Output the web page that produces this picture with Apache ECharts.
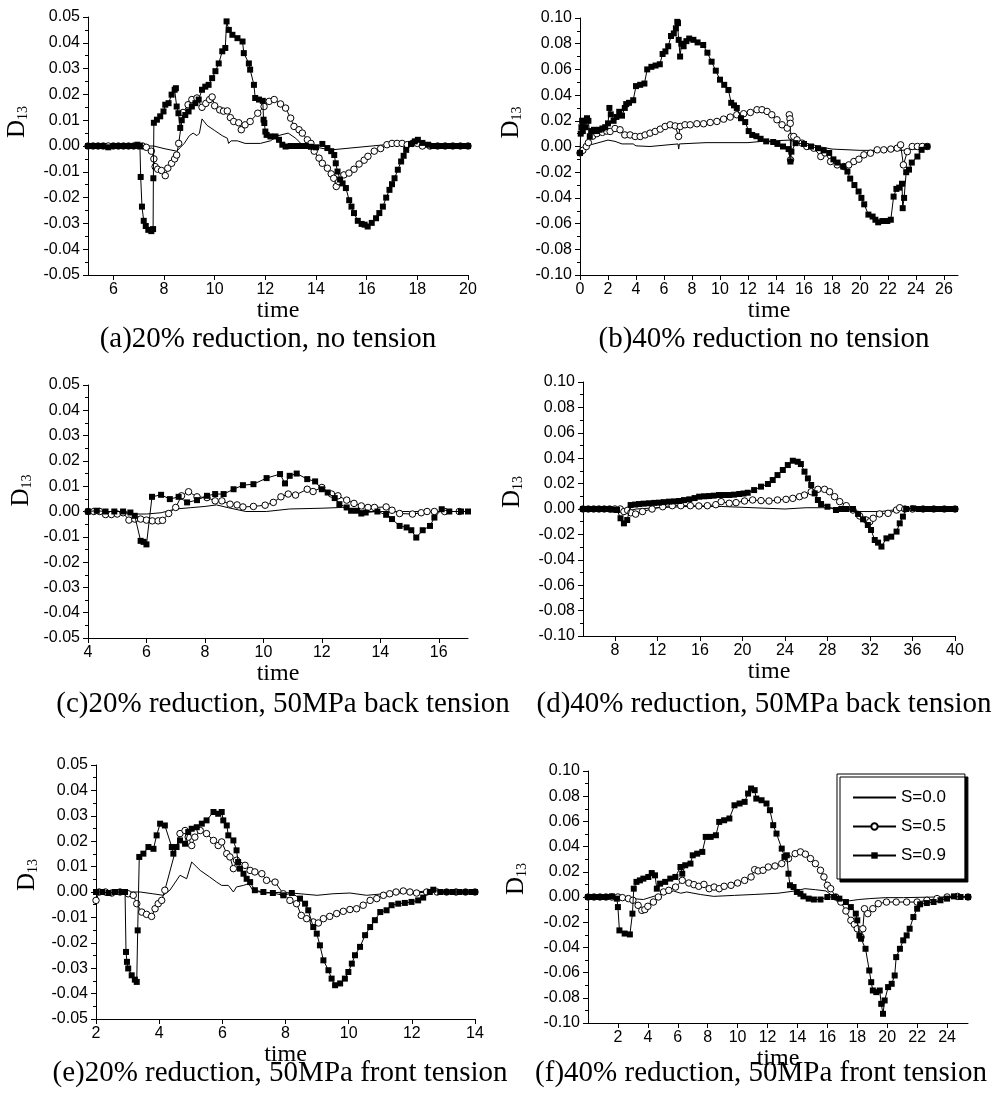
<!DOCTYPE html>
<html><head><meta charset="utf-8">
<script src="https://cdn.jsdelivr.net/npm/echarts@6/dist/echarts.min.js"></script>
<style>html,body{margin:0;padding:0;background:#fff}#chart{width:1008px;height:1095px}</style>
</head><body><div id="chart"></div>
<script>
// ---------- data ----------
const SERIES_NAMES = ['S=0.0', 'S=0.5', 'S=0.9'];
const CAPTIONS = [
  '(a)20% reduction, no tension',
  '(b)40% reduction no tension',
  '(c)20% reduction, 50MPa back tension',
  '(d)40% reduction, 50MPa back tension',
  '(e)20% reduction, 50MPa front tension',
  '(f)40% reduction, 50MPa front tension'
];
const X_LABEL = 'time';
const XTICKS_A = [6, 8, 10, 12, 14, 16, 18, 20];
const XTICKS_B = [0, 2, 4, 6, 8, 10, 12, 14, 16, 18, 20, 22, 24, 26];
const XTICKS_C = [4, 6, 8, 10, 12, 14, 16];
const XTICKS_D = [8, 12, 16, 20, 24, 28, 32, 36, 40];
const XTICKS_E = [2, 4, 6, 8, 10, 12, 14];
const XTICKS_F = [2, 4, 6, 8, 10, 12, 14, 16, 18, 20, 22, 24];

// (a) 20% reduction, no tension
const A_S00 = [[5,0],[6,0],[7,0],[7.6,0],[8.0,-0.001],[8.5,-0.002],[8.8,0.001],[9.0,0.004],[9.15,0.005],[9.3,0.004],[9.4,0.005],[9.5,0.0105],[9.7,0.008],[10.0,0.006],[10.3,0.004],[10.5,0.003],[10.55,0.001],[10.65,0.002],[10.9,0.002],[11.2,0.001],[11.8,0.001],[12.2,0.002],[12.5,0.004],[12.9,0.005],[13.2,0.003],[13.5,0.0],[14.0,-0.0005],[14.6,-0.0015],[17.8,0.0015],[18.3,0.0005],[19,0],[20,0]];
const A_S05 = [[5,0],[5.2,0],[5.4,0],[5.6,0],[5.8,0],[6,0],[6.2,0],[6.4,0],[6.6,0],[6.8,0],[7.0,0],[7.15,0],[7.3,-0.0005],[7.5,-0.002],[7.6,-0.005],[7.65,-0.008],[7.75,-0.009],[7.9,-0.0095],[8.05,-0.0115],[8.15,-0.0086],[8.3,-0.0067],[8.42,-0.005],[8.5,-0.0035],[8.58,0.001],[8.75,0.013],[8.95,0.016],[9.1,0.018],[9.3,0.0186],[9.5,0.015],[9.65,0.0165],[9.8,0.018],[9.9,0.019],[10.0,0.0156],[10.2,0.014],[10.35,0.0135],[10.5,0.0136],[10.62,0.011],[10.75,0.0095],[10.95,0.009],[11.05,0.0063],[11.2,0.0082],[11.4,0.0095],[11.7,0.0127],[11.95,0.0153],[12.15,0.0173],[12.35,0.018],[12.6,0.0163],[12.8,0.0147],[13.0,0.0108],[13.13,0.0076],[13.33,0.0063],[13.46,0.005],[13.66,0.0024],[13.8,0.001],[13.93,-0.002],[14.12,-0.0047],[14.25,-0.0067],[14.45,-0.0086],[14.6,-0.0108],[14.7,-0.0125],[14.8,-0.0157],[14.9,-0.0138],[15.1,-0.0112],[15.3,-0.0105],[15.5,-0.009],[15.7,-0.007],[15.9,-0.0055],[16.05,-0.004],[16.3,-0.002],[16.55,-0.001],[16.8,0.0005],[17.0,0.001],[17.2,0.001],[17.4,0.001],[17.6,0.0005],[17.8,0.001],[18.0,0.001],[18.2,0],[18.5,0],[18.8,0],[19.1,0],[19.4,0],[19.7,0],[20,0]];
const A_S09 = [[5,0],[5.2,0],[5.4,0],[5.6,0],[5.8,-0.0005],[6.0,0],[6.2,0],[6.4,0],[6.6,0],[6.8,0],[6.95,0.0005],[7.05,0],[7.08,-0.012],[7.13,-0.0235],[7.2,-0.029],[7.28,-0.031],[7.38,-0.0325],[7.5,-0.033],[7.57,-0.0322],[7.58,-0.0125],[7.6,0.009],[7.72,0.0102],[7.85,0.0115],[7.98,0.0134],[8.05,0.016],[8.18,0.0166],[8.3,0.0199],[8.42,0.0218],[8.47,0.0224],[8.5,0.0153],[8.57,0.0127],[8.64,0.007],[8.7,0.01],[8.84,0.012],[8.97,0.0134],[9.1,0.0153],[9.24,0.0166],[9.37,0.018],[9.5,0.0218],[9.63,0.023],[9.76,0.0237],[9.9,0.0263],[10.03,0.029],[10.16,0.032],[10.3,0.0367],[10.42,0.038],[10.47,0.0483],[10.56,0.045],[10.7,0.0431],[10.9,0.0418],[11.1,0.0405],[11.15,0.036],[11.35,0.032],[11.4,0.0296],[11.55,0.0237],[11.6,0.0186],[11.75,0.018],[11.9,0.0175],[11.93,0.0102],[11.96,0.0089],[12.0,0.0056],[12.05,0.0043],[12.2,0.0037],[12.4,0.0037],[12.54,0.0024],[12.67,0.0005],[12.8,-0.0002],[13.0,0],[13.2,0],[13.4,0],[13.6,0],[13.8,-0.0003],[14.0,-0.0005],[14.25,0.0008],[14.45,-0.0008],[14.6,-0.002],[14.72,-0.0035],[14.78,-0.0067],[14.85,-0.0099],[14.95,-0.013],[15.05,-0.0145],[15.18,-0.0163],[15.31,-0.021],[15.4,-0.0235],[15.5,-0.026],[15.65,-0.029],[15.8,-0.0302],[15.92,-0.0305],[16.04,-0.0312],[16.2,-0.0298],[16.37,-0.028],[16.5,-0.026],[16.64,-0.0235],[16.77,-0.02],[16.9,-0.017],[17.0,-0.0148],[17.1,-0.0125],[17.23,-0.0092],[17.36,-0.006],[17.46,-0.0038],[17.56,-0.0015],[17.75,0.0008],[17.9,0.0018],[18.02,0.0024],[18.2,0.0012],[18.42,0.0005],[18.6,0],[18.8,0],[19.0,0],[19.2,0],[19.4,0],[19.6,0],[19.8,0],[20,0]];

// (b) 40% reduction, no tension
const B_S00 = [[0,-0.004],[0.3,0.0],[1,0.002],[2,0.005],[2.5,0.004],[3,0.002],[3.8,0.002],[4,0.0005],[5,0],[6,0.001],[7,0.002],[7.05,-0.002],[7.1,0.002],[9,0.003],[12,0.003],[13,0.004],[15,0.005],[16,0.001],[17,0],[18,-0.002],[20,-0.003],[23,-0.003],[24,-0.002],[24.8,0]];
const B_S05 = [[0,-0.005],[0.2,-0.003],[0.45,0],[0.6,0.003],[0.9,0.008],[1.2,0.01],[1.6,0.011],[1.9,0.012],[2.15,0.0117],[2.5,0.014],[2.86,0.013],[3.2,0.009],[3.58,0.009],[3.94,0.0078],[4.3,0.0078],[4.65,0.009],[5.0,0.0104],[5.37,0.0117],[5.73,0.0135],[6.08,0.0156],[6.44,0.0169],[6.8,0.016],[7.04,0.0078],[7.16,0.0156],[7.5,0.0169],[7.87,0.0169],[8.35,0.0177],[8.83,0.0177],[9.3,0.0187],[9.78,0.0195],[10.26,0.0213],[10.73,0.0229],[11.2,0.0247],[11.69,0.0255],[12.17,0.0265],[12.64,0.0286],[13.0,0.0286],[13.36,0.0273],[13.7,0.0247],[14.07,0.0208],[14.43,0.0169],[14.8,0.0143],[14.95,0.0247],[15.0,0.0215],[15.02,0.018],[15.04,-0.0104],[15.1,0.0078],[15.27,0.0078],[15.5,0.0052],[15.86,0.0026],[16.2,0],[16.7,-0.0013],[17.2,-0.0078],[17.5,-0.005],[17.9,-0.0117],[18.37,-0.0143],[18.85,-0.0156],[19.2,-0.0143],[19.56,-0.0117],[19.92,-0.0099],[20.28,-0.0065],[20.75,-0.0052],[21.23,-0.0026],[21.7,-0.0026],[22.2,-0.002],[22.66,-0.0013],[22.9,0.0013],[23.1,-0.0143],[23.38,-0.004],[23.73,0],[24.1,0],[24.45,0],[24.8,0]];
const B_S09 = [[0,-0.005],[0.05,0.01],[0.1,0.015],[0.15,0.02],[0.2,0.012],[0.3,0.02],[0.4,0.015],[0.5,0.022],[0.6,0.02],[0.7,0.008],[0.8,0.012],[1.0,0.013],[1.2,0.012],[1.4,0.013],[1.6,0.014],[1.8,0.015],[2.0,0.018],[2.1,0.03],[2.2,0.025],[2.4,0.02],[2.6,0.023],[2.8,0.027],[3.0,0.024],[3.2,0.03],[3.3,0.033],[3.5,0.034],[3.8,0.036],[4.0,0.047],[4.3,0.048],[4.6,0.049],[4.8,0.06],[5.1,0.062],[5.4,0.063],[5.7,0.064],[5.9,0.072],[6.1,0.074],[6.3,0.078],[6.5,0.086],[6.7,0.088],[6.85,0.092],[6.95,0.097],[7.0,0.096],[7.05,0.083],[7.15,0.07],[7.25,0.08],[7.4,0.078],[7.6,0.082],[7.8,0.084],[8.1,0.083],[8.4,0.081],[8.8,0.079],[9.1,0.073],[9.4,0.066],[9.7,0.059],[10.0,0.052],[10.3,0.048],[10.6,0.044],[10.8,0.034],[11.0,0.032],[11.2,0.03],[11.5,0.022],[11.8,0.019],[12.05,0.012],[12.3,0.009],[12.6,0.008],[12.9,0.006],[13.3,0.004],[13.8,0.0035],[14.1,0.002],[14.5,0],[14.9,-0.002],[15.03,-0.0117],[15.1,-0.004],[15.4,0.0026],[16.0,0.002],[16.5,0],[17.0,-0.0013],[17.4,-0.003],[17.8,-0.005],[18.1,-0.01],[18.4,-0.0125],[18.8,-0.0156],[19.1,-0.0195],[19.3,-0.025],[19.6,-0.03],[19.9,-0.035],[20.1,-0.04],[20.3,-0.045],[20.6,-0.053],[20.9,-0.0545],[21.1,-0.057],[21.3,-0.059],[21.6,-0.058],[21.95,-0.058],[22.2,-0.057],[22.4,-0.039],[22.6,-0.033],[22.8,-0.032],[23.0,-0.029],[23.05,-0.048],[23.15,-0.04],[23.3,-0.02],[23.5,-0.018],[23.7,-0.0125],[24.1,-0.0078],[24.4,-0.0026],[24.8,0]];

// (c) 20% reduction, 50MPa back tension
const C_S00 = [[4,0],[5,0],[5.5,-0.001],[6,-0.001],[6.5,-0.0005],[7,0.001],[7.5,0.0015],[8,0.002],[8.4,0.0026],[8.8,0.0015],[9.4,0],[10.1,0],[10.9,0.001],[12,0.0013],[12.7,0.0016],[13.5,0],[14,0],[15,0],[16,0],[17,0]];
const C_S05 = [[4,0],[4.2,0],[4.4,0],[4.6,-0.0012],[4.8,-0.0012],[5.0,-0.001],[5.2,-0.0005],[5.4,-0.0034],[5.6,-0.003],[5.8,-0.003],[6.0,-0.0034],[6.2,-0.0037],[6.4,-0.0037],[6.55,-0.0035],[6.76,-0.0008],[7.0,0.0016],[7.2,0.0062],[7.44,0.0078],[7.73,0.0058],[8.07,0.0055],[8.35,0.0042],[8.58,0.0042],[8.86,0.0029],[9.1,0.0026],[9.3,0.0018],[9.66,0.002],[10.06,0.0025],[10.34,0.0036],[10.6,0.0058],[10.85,0.0069],[11.1,0.0065],[11.5,0.0088],[11.7,0.0079],[12.0,0.0095],[12.33,0.0069],[12.55,0.0062],[12.85,0.0045],[13.1,0.0032],[13.35,0.0022],[13.58,0.0016],[13.8,0.0016],[14.2,0.0018],[14.4,0.0005],[14.66,-0.0008],[15.1,-0.001],[15.4,-0.0005],[15.6,0],[15.85,0],[16.2,0],[16.7,0]];
const C_S09 = [[4,0],[4.3,0.0003],[4.6,0],[4.9,0],[5.2,0],[5.45,-0.0004],[5.6,-0.0017],[5.8,-0.0116],[5.9,-0.012],[6.0,-0.013],[6.19,0.0058],[6.5,0.0066],[6.8,0.0049],[7.1,0.0058],[7.39,0.0036],[7.73,0.0045],[8.07,0.0062],[8.35,0.0069],[8.64,0.0069],[8.98,0.0088],[9.3,0.0104],[9.66,0.0108],[10.11,0.0132],[10.57,0.0148],[10.74,0.0111],[10.9,0.0141],[11.14,0.015],[11.5,0.0128],[11.77,0.0119],[12.0,0.0088],[12.2,0.0075],[12.44,0.0053],[12.6,0.0029],[12.85,0.0016],[13.0,0.0003],[13.2,0.0003],[13.35,-0.0008],[13.5,-0.0004],[13.9,0],[14.2,-0.0013],[14.4,-0.003],[14.66,-0.0057],[14.9,-0.0063],[15.06,-0.0074],[15.23,-0.0103],[15.45,-0.0074],[15.7,-0.0057],[15.85,-0.0024],[16.1,0.0009],[16.36,0],[16.76,0],[17.0,0]];

// (d) 40% reduction, 50MPa back tension
const D_S00 = [[5,0],[8,0],[8.5,-0.001],[9,-0.002],[10,0],[12,0.001],[15,0.002],[18,0.002],[21,0.001],[24,0],[26,0.001],[28,0.001],[30,0],[31,-0.002],[33,-0.002],[35,0],[40,0]];
const D_S05 = [[5,0],[5.5,0],[6,0],[6.5,0],[7,0],[7.5,0],[8,0],[8.5,0],[8.85,-0.002],[9.2,-0.001],[9.5,-0.003],[9.95,-0.004],[10.6,-0.002],[11.5,0],[12.5,0.0018],[13.4,0.0026],[14.2,0.0026],[15.1,0.0026],[15.9,0.0024],[16.7,0.0026],[17.5,0.0034],[18.0,0.0058],[18.76,0.0045],[19.4,0.005],[20.2,0.0063],[20.96,0.0071],[21.75,0.0066],[22.5,0.0063],[23.3,0.0071],[24.1,0.0076],[24.74,0.0084],[25.37,0.0097],[25.84,0.011],[26.47,0.0136],[27.1,0.0155],[27.73,0.0155],[28.2,0.0136],[28.67,0.0097],[29.15,0.0058],[29.77,0.0026],[30.4,-0.0008],[31.03,-0.0055],[31.66,-0.0087],[31.98,-0.01],[32.3,-0.0073],[32.9,-0.0039],[33.7,-0.0034],[34.5,-0.0008],[34.8,0.001],[35.28,0],[36,0],[37,0],[38,0],[39,0],[40,0]];
const D_S09 = [[5,0],[5.4,0],[5.8,0],[6.2,0],[6.6,0],[7.0,0],[7.4,0],[7.8,-0.0005],[8.2,-0.0008],[8.53,-0.0073],[8.85,-0.0113],[9.16,-0.0087],[9.48,0.0031],[9.9,0.0035],[10.27,0.0039],[10.7,0.0042],[11.2,0.0045],[11.7,0.0048],[12.15,0.005],[12.6,0.0054],[13.1,0.0058],[13.6,0.006],[14.04,0.0063],[14.5,0.007],[15.0,0.0076],[15.5,0.0086],[15.93,0.0097],[16.4,0.01],[16.87,0.0102],[17.3,0.0105],[17.8,0.011],[18.3,0.011],[18.76,0.011],[19.2,0.0113],[19.7,0.0118],[20.1,0.0122],[20.5,0.0128],[21.1,0.0149],[21.75,0.0176],[22.4,0.0197],[22.85,0.0228],[23.3,0.0267],[23.8,0.0307],[24.27,0.0346],[24.74,0.038],[25.2,0.0372],[25.5,0.0354],[25.84,0.0294],[26.16,0.0241],[26.47,0.0189],[26.8,0.0123],[27.1,0.0071],[27.4,0.0039],[28.0,0.0018],[28.8,-0.0008],[29.3,0],[29.77,0],[30.4,0],[30.88,-0.0039],[31.35,-0.0081],[31.8,-0.0126],[32.1,-0.0165],[32.45,-0.0244],[32.76,-0.0265],[33.08,-0.0296],[33.55,-0.0231],[34.0,-0.0218],[34.5,-0.0178],[34.8,-0.0113],[35.1,-0.006],[35.4,0],[36.07,0.0005],[36.6,0],[37.1,0],[37.6,0],[38.1,0],[38.6,0],[39.1,0],[39.6,0],[40,0]];

// (e) 20% reduction, 50MPa front tension
const E_S00 = [[2,0],[3.3,0],[3.4,0],[3.8,-0.0007],[4.13,-0.0013],[4.34,0.0007],[4.66,0.0066],[4.87,0.0052],[4.92,0.0046],[5.03,0.0118],[5.3,0.0085],[5.6,0.0059],[5.82,0.0039],[5.98,0.0026],[6.19,0.0026],[6.25,0.002],[6.35,0],[6.45,0.002],[6.67,0.0026],[6.83,0.0033],[6.98,0.0004],[7.4,-0.0004],[7.9,-0.0001],[8.46,-0.0007],[9.0,-0.0013],[9.5,-0.0007],[10.04,-0.0004],[10.57,-0.0013],[11.1,-0.0007],[11.6,-0.0004],[12.15,0],[12.68,0.0007],[14,0]];
const E_S05 = [[2.0,-0.0033],[2.1,0],[2.3,0],[2.5,-0.0004],[2.76,0],[3.02,-0.0007],[3.18,-0.0013],[3.29,-0.0046],[3.45,-0.0079],[3.6,-0.0088],[3.76,-0.0096],[3.87,-0.0066],[3.97,-0.0046],[4.08,-0.0033],[4.18,0.0007],[4.66,0.023],[4.82,0.0242],[4.92,0.0216],[5.03,0.0183],[5.13,0.0216],[5.3,0.0242],[5.5,0.023],[5.72,0.0203],[5.87,0.0183],[5.98,0.0197],[6.14,0.0151],[6.24,0.0138],[6.35,0.0092],[6.45,0.0125],[6.56,0.0105],[6.72,0.0105],[6.88,0.0085],[7.03,0.0079],[7.25,0.0072],[7.4,0.0046],[7.67,0.0039],[7.93,-0.0007],[8.14,-0.0033],[8.35,-0.0046],[8.5,-0.0092],[8.67,-0.0105],[8.88,-0.0118],[9.04,-0.0122],[9.2,-0.0105],[9.4,-0.0096],[9.62,-0.0085],[9.83,-0.0076],[10.04,-0.0069],[10.25,-0.0066],[10.46,-0.0052],[10.68,-0.0033],[10.89,-0.0026],[11.1,-0.0013],[11.3,-0.0007],[11.5,0],[11.73,0.0004],[11.94,0],[12.15,-0.0004],[12.47,0],[12.8,0],[13.1,0],[13.4,0],[13.7,0],[14,0]];
const E_S09 = [[2.0,0],[2.2,0],[2.4,-0.0004],[2.6,0],[2.8,0],[2.92,0],[2.95,-0.0236],[2.98,-0.0275],[3.02,-0.0301],[3.13,-0.0328],[3.23,-0.0345],[3.29,-0.0354],[3.32,-0.0151],[3.37,0.0138],[3.5,0.0151],[3.66,0.0177],[3.82,0.017],[3.92,0.0223],[4.03,0.0269],[4.18,0.0262],[4.4,0.0177],[4.45,0.0151],[4.55,0.0177],[4.66,0.0203],[4.82,0.019],[4.92,0.0236],[5.03,0.0249],[5.19,0.0255],[5.35,0.0269],[5.5,0.0282],[5.72,0.0315],[5.87,0.0308],[5.98,0.0315],[6.03,0.0282],[6.14,0.0262],[6.19,0.0223],[6.35,0.0203],[6.45,0.0164],[6.5,0.0118],[6.56,0.0092],[6.67,0.0072],[6.77,0.0052],[6.88,0.0039],[7.03,0.0007],[7.3,0],[7.6,-0.0004],[7.93,-0.0013],[8.2,-0.0004],[8.46,-0.0026],[8.62,-0.0046],[8.72,-0.0072],[8.88,-0.0138],[8.99,-0.0164],[9.09,-0.021],[9.2,-0.0269],[9.36,-0.0308],[9.46,-0.0341],[9.57,-0.0367],[9.73,-0.036],[9.88,-0.0341],[9.99,-0.0315],[10.1,-0.0282],[10.2,-0.0249],[10.36,-0.0216],[10.52,-0.017],[10.68,-0.0138],[10.83,-0.0111],[11.0,-0.0079],[11.2,-0.0072],[11.36,-0.0052],[11.57,-0.0046],[11.78,-0.0043],[11.99,-0.0039],[12.2,-0.0033],[12.36,-0.0022],[12.57,0],[12.68,0.0009],[12.9,0],[13.1,0],[13.3,0],[13.5,0],[13.7,0],[13.9,0],[14,0]];

// (f) 40% reduction, 50MPa front tension
const F_S00 = [[0,0],[2.5,0],[3.0,-0.0013],[3.7,-0.002],[4.6,0.0013],[5.3,0.003],[5.7,0.0048],[6.2,0.003],[6.6,0.004],[7.5,0.002],[8.4,0.0005],[9.8,0.0013],[11.1,0.002],[12.7,0.003],[13.85,0.0048],[14.5,0.0066],[15.2,0.0058],[15.9,0.0048],[16.3,0.0013],[16.8,-0.0026],[17.5,-0.003],[18.1,-0.002],[18.8,-0.0013],[19.9,-0.0005],[21.1,-0.0005],[23.3,0],[25.4,0]];
const F_S05 = [[0,0],[0.4,0],[0.8,0],[1.2,0],[1.6,0],[2.0,0],[2.3,-0.0005],[2.7,-0.0013],[3.0,-0.0026],[3.35,-0.0066],[3.6,-0.0106],[3.8,-0.01],[4.0,-0.0074],[4.37,-0.004],[4.7,0],[5.05,0.004],[5.4,0.0053],[5.85,0.0079],[6.3,0.0132],[6.74,0.0111],[7.08,0.0098],[7.4,0.0085],[7.75,0.01],[8.1,0.0066],[8.43,0.0079],[8.77,0.0066],[9.1,0.0085],[9.56,0.0093],[10.0,0.0111],[10.47,0.0132],[10.9,0.0159],[11.14,0.0217],[11.37,0.0207],[11.7,0.0212],[12.05,0.0238],[12.5,0.0246],[12.95,0.0265],[13.4,0.0305],[13.85,0.0344],[14.2,0.0358],[14.53,0.034],[14.87,0.0305],[15.2,0.0265],[15.54,0.0212],[15.77,0.0159],[16.0,0.0093],[16.22,0.0066],[16.56,0],[16.9,-0.004],[17.24,-0.0111],[17.57,-0.0185],[17.8,-0.0217],[18.0,-0.0252],[18.25,-0.0318],[18.37,-0.0252],[18.48,-0.0093],[18.7,-0.0132],[19.04,-0.0093],[19.4,-0.0053],[19.95,-0.004],[20.6,-0.004],[21.3,-0.004],[22.0,-0.004],[22.65,-0.0026],[23.33,-0.0013],[24.0,0],[24.7,0.0005],[25.4,0]];
const F_S09 = [[0,0],[0.4,0],[0.8,0],[1.2,0],[1.6,0.0005],[1.93,-0.0013],[2.0,-0.008],[2.1,-0.0265],[2.45,-0.029],[2.8,-0.0297],[2.97,-0.0132],[3.06,0.0066],[3.24,0.012],[3.47,0.0132],[3.7,0.0146],[4.03,0.0159],[4.26,0.019],[4.48,0.0172],[4.6,0.0066],[4.82,0.0106],[5.16,0.012],[5.5,0.0146],[5.84,0.0159],[6.18,0.0238],[6.3,0.0185],[6.5,0.0252],[6.85,0.0265],[7.0,0.0331],[7.3,0.0344],[7.64,0.0358],[7.87,0.0477],[8.2,0.0477],[8.55,0.049],[8.77,0.0596],[9.1,0.0609],[9.45,0.0623],[9.79,0.0728],[10.13,0.0742],[10.47,0.0755],[10.7,0.0821],[10.9,0.0861],[11.14,0.0848],[11.25,0.0781],[11.6,0.0768],[11.93,0.0742],[12.16,0.0689],[12.38,0.057],[12.6,0.0503],[12.95,0.0384],[13.13,0.0318],[13.29,0.0331],[13.4,0.0185],[13.5,0.0093],[13.74,0.0079],[13.96,0.004],[14.2,0.0026],[14.4,0.0005],[14.75,-0.0013],[15.1,-0.002],[15.54,-0.002],[16.0,0],[16.45,0],[16.8,-0.0013],[17.24,-0.004],[17.57,-0.008],[17.9,-0.0132],[18.0,-0.0185],[18.14,-0.0305],[18.25,-0.0331],[18.55,-0.0411],[18.8,-0.0583],[18.93,-0.0676],[19.04,-0.0742],[19.27,-0.0755],[19.5,-0.0742],[19.6,-0.0848],[19.72,-0.0927],[19.83,-0.0821],[20.06,-0.0715],[20.3,-0.0689],[20.5,-0.0623],[20.6,-0.0477],[20.85,-0.0411],[21.07,-0.0344],[21.3,-0.0305],[21.5,-0.0252],[21.75,-0.0159],[22.0,-0.0093],[22.2,-0.0058],[22.65,-0.0048],[23.1,-0.004],[23.56,-0.0026],[24.0,-0.0013],[24.46,0.0005],[24.9,0],[25.4,0]];

// ---------- layout ----------
const PANELS = [
  {grid:{left:88, top:17, width:380, height:258}, xMin:5, xMax:20, xTicks:XTICKS_A, yLim:0.05, yStep:0.01, data:[A_S00,A_S05,A_S09], cap:[268,339], yGap:58, yShift:48, xGap:15},
  {grid:{left:580, top:18, width:378, height:257}, xMin:0, xMax:27, xTicks:XTICKS_B, yLim:0.10, yStep:0.02, data:[B_S00,B_S05,B_S09], cap:[764,339], yGap:56, yShift:48, xGap:18},
  {grid:{left:88, top:385, width:380, height:253}, xMin:4, xMax:17, xTicks:XTICKS_C, yLim:0.05, yStep:0.01, data:[C_S00,C_S05,C_S09], cap:[283,704], yGap:54, yShift:42, xGap:15},
  {grid:{left:583, top:382, width:372, height:254}, xMin:5, xMax:40, xTicks:XTICKS_D, yLim:0.10, yStep:0.02, data:[D_S00,D_S05,D_S09], cap:[764,704], yGap:58, yShift:34, xGap:15},
  {grid:{left:96, top:765, width:379, height:254}, xMin:2, xMax:14, xTicks:XTICKS_E, yLim:0.05, yStep:0.01, data:[E_S00,E_S05,E_S09], cap:[280,1073], yGap:56, yShift:34, xGap:19},
  {grid:{left:588, top:771, width:380, height:252}, xMin:0, xMax:25.4, xTicks:XTICKS_F, yLim:0.10, yStep:0.02, data:[F_S00,F_S05,F_S09], cap:[761,1073], yGap:59, yShift:36, xGap:19}
];

const INK = '#000';
const SANS = 'Liberation Sans, Arial, sans-serif';
const SERIF = 'Liberation Serif, Times New Roman, serif';

const grids = [], xAxes = [], yAxes = [], series = [], graphics = [];
PANELS.forEach((p, i) => {
  grids.push(Object.assign({outerBoundsMode: 'none', containLabel: false}, p.grid));
  xAxes.push({
    type: 'value', gridIndex: i, min: p.xMin, max: p.xMax,
    name: X_LABEL, nameLocation: 'middle', nameGap: p.xGap,
    nameTextStyle: {fontFamily: SERIF, fontSize: 24, color: INK},
    axisLine: {show: true, onZero: false, lineStyle: {color: INK, width: 1}},
    axisTick: {show: true, length: 5, customValues: p.xTicks, lineStyle: {color: INK}},
    axisLabel: {customValues: p.xTicks, fontFamily: SANS, fontSize: 16, color: INK, margin: 7},
    splitLine: {show: false}
  });
  yAxes.push({
    type: 'value', gridIndex: i, min: -p.yLim, max: p.yLim, interval: p.yStep,
    name: '{d|D}{s|13}', nameLocation: 'middle', nameGap: p.yGap,
    nameTextStyle: {padding: [0, 0, 0, p.yShift], rich: {
      d: {fontFamily: SERIF, fontSize: 25, color: INK, verticalAlign: 'bottom', lineHeight: 28},
      s: {fontFamily: SERIF, fontSize: 14, color: INK, verticalAlign: 'bottom', lineHeight: 26}
    }},
    axisLine: {show: true, onZero: false, lineStyle: {color: INK, width: 1}},
    axisTick: {show: true, length: 5, lineStyle: {color: INK}},
    minorTick: {show: true, splitNumber: 2, length: 3, lineStyle: {color: INK}},
    axisLabel: {fontFamily: SANS, fontSize: 16, color: INK, margin: 8,
      formatter: v => (Math.round(v * 100) / 100).toFixed(2)},
    splitLine: {show: false}, minorSplitLine: {show: false}
  });
  p.data.forEach((d, k) => {
    const s = {
      name: SERIES_NAMES[k], type: 'line', xAxisIndex: i, yAxisIndex: i, data: d,
      showAllSymbol: true, animation: false,
      lineStyle: {color: INK, width: 1}, z: 2 + k
    };
    if (k === 0) { s.symbol = 'none'; s.itemStyle = {color: INK}; }
    if (k === 1) { s.symbol = 'circle'; s.symbolSize = 6.5; s.itemStyle = {color: '#fff', borderColor: INK, borderWidth: 1}; }
    if (k === 2) { s.symbol = 'rect'; s.symbolSize = 6; s.itemStyle = {color: INK}; }
    series.push(s);
  });
  graphics.push({type: 'text', x: p.cap[0], y: p.cap[1], style: {
    text: CAPTIONS[i], fill: INK, font: '29px ' + SERIF, textAlign: 'center', textVerticalAlign: 'middle'}});
});

const chart = echarts.init(document.getElementById('chart'), null, {renderer: 'canvas'});
chart.setOption({
  backgroundColor: '#fff',
  animation: false,
  grid: grids, xAxis: xAxes, yAxis: yAxes, series: series,
  legend: {
    data: [
      {name: SERIES_NAMES[0], itemStyle: {opacity: 0}},
      {name: SERIES_NAMES[1]},
      {name: SERIES_NAMES[2]}
    ],
    orient: 'vertical', left: 837, top: 774,
    itemWidth: 43, itemHeight: 8, itemGap: 12, padding: [15, 19, 15, 15],
    backgroundColor: '#fff', borderColor: INK, borderWidth: 1,
    shadowColor: INK, shadowOffsetX: 3, shadowOffsetY: 3, shadowBlur: 0,
    textStyle: {fontFamily: SANS, fontSize: 17, color: INK},
    selectedMode: false, z: 20
  },
  graphic: graphics
});
</script></body></html>
